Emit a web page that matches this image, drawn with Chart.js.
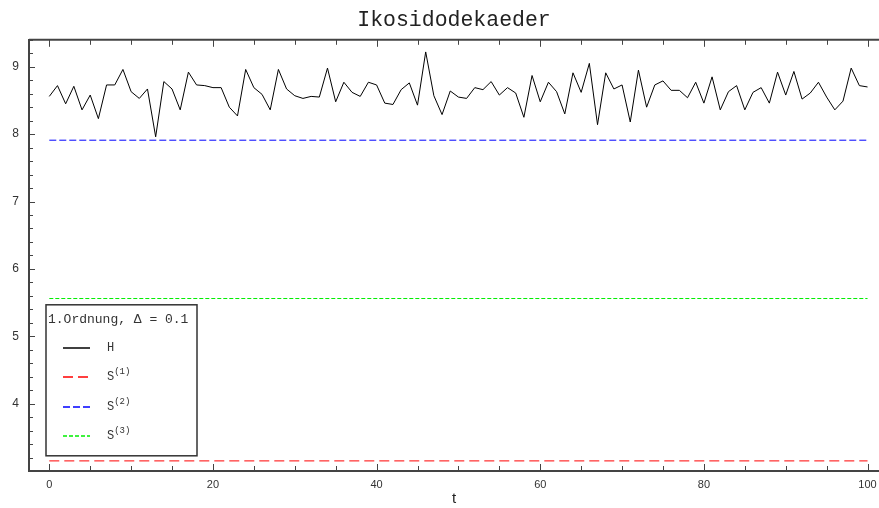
<!DOCTYPE html>
<html>
<head>
<meta charset="utf-8">
<script src="https://cdn.jsdelivr.net/npm/chart.js@4/dist/chart.umd.min.js"></script>
<style>
  html, body { margin: 0; padding: 0; background: #fff; }
  #wrap { width: 879px; height: 508px; }
</style>
</head>
<body>
<div id="wrap"><canvas id="chart" width="879" height="508"></canvas></div>
<script>
// values
const hValues = [
    8.56, 8.72, 8.45, 8.71, 8.36, 8.58, 8.23, 8.73, 8.73, 8.96,
    8.63, 8.53, 8.67, 7.96, 8.78, 8.67, 8.36, 8.92, 8.73, 8.72,
    8.69, 8.69, 8.40, 8.27, 8.96, 8.69, 8.59, 8.36, 8.96, 8.67,
    8.57, 8.53, 8.56, 8.55, 8.98, 8.48, 8.77, 8.62, 8.56, 8.77,
    8.73, 8.46, 8.44, 8.66, 8.76, 8.43, 9.22, 8.57, 8.29, 8.64,
    8.55, 8.53, 8.69, 8.66, 8.78, 8.58, 8.69, 8.61, 8.25, 8.87,
    8.48, 8.77, 8.63, 8.30, 8.91, 8.62, 9.05, 8.14, 8.91, 8.67,
    8.73, 8.18, 8.95, 8.40, 8.73, 8.79, 8.65, 8.65, 8.54, 8.77,
    8.46, 8.85, 8.36, 8.63, 8.72, 8.36, 8.62, 8.69, 8.46, 8.92,
    8.58, 8.93, 8.52, 8.61, 8.77, 8.55, 8.36, 8.49, 8.98, 8.72, 8.70
];
const sLabels = ['(1)', '(2)', '(3)'];
const sLevels = [3.15, 7.91, 5.56];
const sColors = ['#ff0000', '#0000ff', '#00ee00'];
const sDashes = [[10, 5], [7, 3], [4, 2]];
const tRange = [0, 100];
const xTicks = [0, 20, 40, 60, 80, 100];
const yTicks = [4, 5, 6, 7, 8, 9];
const legendTitle = '1.Ordnung, \u0394 = 0.1';

const axisColor = '#444';
const monoFont = "'Liberation Mono', 'DejaVu Sans Mono', monospace";

const datasets = [{
    label: 'H',
    data: hValues.map((v, i) => ({ x: i, y: v })),
    borderColor: '#000',
    borderWidth: 1,
    pointRadius: 0,
    tension: 0
}];
sLevels.forEach((lvl, i) => {
    datasets.push({
        label: 'S',
        sup: sLabels[i],
        data: tRange.map(t => ({ x: t, y: lvl })),
        borderColor: sColors[i],
        borderDash: sDashes[i],
        borderWidth: 1,
        pointRadius: 0
    });
});

// frame on top + inward tick marks
const frameTicks = {
    id: 'frameTicks',
    afterDraw(chart) {
        const { ctx, chartArea: a, scales: { x, y } } = chart;
        ctx.save();
        ctx.strokeStyle = axisColor;
        ctx.lineWidth = 2;
        ctx.beginPath();
        ctx.moveTo(a.left, a.top);
        ctx.lineTo(a.right, a.top);
        ctx.stroke();

        ctx.lineWidth = 1;
        ctx.beginPath();
        for (let v = 0; v <= 100; v += 5) {
            const px = Math.round(x.getPixelForValue(v)) + 0.5;
            const len = v % 20 === 0 ? 7 : 5;
            ctx.moveTo(px, a.bottom);
            ctx.lineTo(px, a.bottom - len);
            ctx.moveTo(px, a.top);
            ctx.lineTo(px, a.top + len);
        }
        for (let k = 16; k <= 47; k++) {
            const v = k / 5;
            const py = Math.round(y.getPixelForValue(v)) + 0.5;
            const len = k % 5 === 0 ? 6 : 4;
            ctx.moveTo(a.left, py);
            ctx.lineTo(a.left + len, py);
        }
        ctx.stroke();
        ctx.restore();
    }
};

// boxed legend with superscripts
const boxLegend = {
    id: 'boxLegend',
    afterDraw(chart) {
        const { ctx, chartArea: a } = chart;
        const left = a.left + 17, top = a.top + 265, w = 151, h = 151;
        ctx.save();
        ctx.fillStyle = '#fff';
        ctx.fillRect(left, top, w, h);
        ctx.strokeStyle = '#333';
        ctx.lineWidth = 1.5;
        ctx.strokeRect(left, top, w, h);

        ctx.fillStyle = '#333';
        ctx.textBaseline = 'middle';
        ctx.font = '13px ' + monoFont;
        ctx.fillText(legendTitle, left + 2, top + 15);

        const colors = ['#000'].concat(sColors);
        const dashes = [[]].concat(sDashes);
        chart.data.datasets.forEach((ds, i) => {
            const cy = Math.round(top + 43 + i * 29.5);
            ctx.strokeStyle = colors[i];
            ctx.lineWidth = 1.5;
            ctx.setLineDash(dashes[i]);
            ctx.beginPath();
            ctx.moveTo(left + 17, cy);
            ctx.lineTo(left + 44, cy);
            ctx.stroke();
            ctx.setLineDash([]);
            ctx.fillStyle = '#333';
            ctx.font = '12px ' + monoFont;
            ctx.fillText(ds.label, left + 61, cy);
            if (ds.sup) {
                const sw = ctx.measureText(ds.label).width;
                ctx.font = '9px ' + monoFont;
                ctx.fillText(ds.sup, left + 61 + sw, cy - 5);
            }
        });
        ctx.restore();
    }
};

new Chart(document.getElementById('chart').getContext('2d'), {
    type: 'line',
    data: { datasets: datasets },
    options: {
        responsive: false,
        animation: false,
        layout: { padding: 0 },
        plugins: {
            legend: { display: false },
            tooltip: { enabled: false },
            title: {
                display: true,
                fullSize: false,
                text: 'Ikosidodekaeder',
                color: '#222',
                font: { family: monoFont, size: 21.5, weight: 'normal', lineHeight: 1.2 },
                padding: { top: 7, bottom: 7 }
            }
        },
        scales: {
            x: {
                type: 'linear',
                min: -2.48,
                max: 101.4,
                afterBuildTicks: s => { s.ticks = xTicks.map(v => ({ value: v })); },
                afterFit: s => { s.height = 37; s.paddingLeft = 0; s.paddingRight = 0; },
                grid: { display: false, drawTicks: false },
                border: { display: true, color: axisColor, width: 2 },
                ticks: {
                    color: '#333',
                    padding: 7,
                    maxRotation: 0,
                    font: { family: "'Liberation Sans Narrow', 'Liberation Sans', sans-serif", size: 11 }
                },
                title: {
                    display: true,
                    text: 't',
                    color: '#222',
                    padding: { top: 0, bottom: 0 },
                    font: { family: "'Liberation Sans', sans-serif", size: 15 }
                }
            },
            y: {
                min: 3,
                max: 9.4,
                afterBuildTicks: s => { s.ticks = yTicks.map(v => ({ value: v })); },
                afterFit: s => { s.width = 29; s.paddingTop = 0; s.paddingBottom = 0; },
                grid: { display: false, drawTicks: false },
                border: { display: true, color: axisColor, width: 2 },
                ticks: {
                    color: '#333',
                    padding: 10,
                    font: { family: "'Liberation Sans', sans-serif", size: 12 }
                }
            }
        }
    },
    plugins: [frameTicks, boxLegend]
});
</script>
</body>
</html>
